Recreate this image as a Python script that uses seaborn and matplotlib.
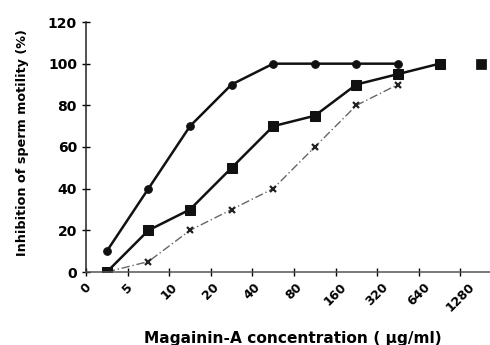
import seaborn as sns
import matplotlib.pyplot as plt
import numpy as np
import pandas as pd

conc_labels = ['0', '5', '10', '20', '40', '80', '160', '320', '640', '1280']
diamond_vals = [10, 40, 70, 90, 100, 100, 100, 100, np.nan, np.nan]
square_vals = [0, 20, 30, 50, 70, 75, 90, 95, 100, 100]
cross_vals = [0, 5, 20, 30, 40, 60, 80, 90, np.nan, np.nan]

sns.set_style('ticks')
plt.rcParams['font.family'] = ['DejaVu Sans']
plt.rcParams['font.weight'] = 'bold'
plt.rcParams['text.color'] = 'black'
plt.rcParams['axes.labelcolor'] = 'black'
plt.rcParams['xtick.color'] = 'black'
plt.rcParams['ytick.color'] = 'black'

pos = np.arange(len(conc_labels))
df = pd.DataFrame({'pos': pos, 'diamond': diamond_vals,
                   'square': square_vals, 'cross': cross_vals})

fig = plt.figure(figsize=(4.9, 3.45), dpi=100)
ax = fig.add_axes([86 / 490, 73 / 345, 416 / 490, 250 / 345])

# third series, thin grey dash-dot
sns.lineplot(data=df, x='pos', y='cross', ax=ax, color='#666666', lw=1,
             linestyle=(0, (6, 2, 1, 2)), marker='x', ms=5, mew=1.6,
             mec='#222222')
# square series: line up to 640, last point drawn alone
sns.lineplot(data=df.iloc[:9], x='pos', y='square', ax=ax, color='#111111',
             lw=1.8, marker='s', ms=6.5, mec='#111111')
sns.scatterplot(data=df.iloc[9:], x='pos', y='square', ax=ax, color='#111111',
                marker='s', s=45, edgecolor='#111111')
sns.lineplot(data=df, x='pos', y='diamond', ax=ax, color='#111111', lw=1.8,
             marker='o', ms=5.5, mec='#111111')

ax.set_xlim(-0.5, 9.5)
ax.set_ylim(0, 120)
ax.set_yticks(range(0, 121, 20))
ax.set_xticks(pos - 0.5)
ax.set_xticklabels(conc_labels, rotation=45, ha='center', fontsize=9,
                   fontweight='bold')
ax.tick_params(axis='x', direction='inout', length=6, width=1, pad=3)
ax.tick_params(axis='y', direction='inout', length=6, width=1, labelsize=10)
for t in ax.get_yticklabels():
    t.set_fontweight('bold')

sns.despine(ax=ax)
ax.spines['left'].set_linewidth(1.1)
ax.spines['bottom'].set_linewidth(1.1)
ax.spines['left'].set_color('#222222')
ax.spines['bottom'].set_color('#555555')

ax.set_ylabel('Inhibition of sperm motility (%)', fontsize=9.2,
              fontweight='bold')
ax.yaxis.set_label_coords(-57 / 416, 0.516)
ax.set_xlabel('Magainin-A concentration ( µg/ml)', fontsize=11.1,
              fontweight='bold')
ax.xaxis.set_label_coords((293 - 86) / 416, -59 / 250)

fig.savefig('out.png', dpi=100)
